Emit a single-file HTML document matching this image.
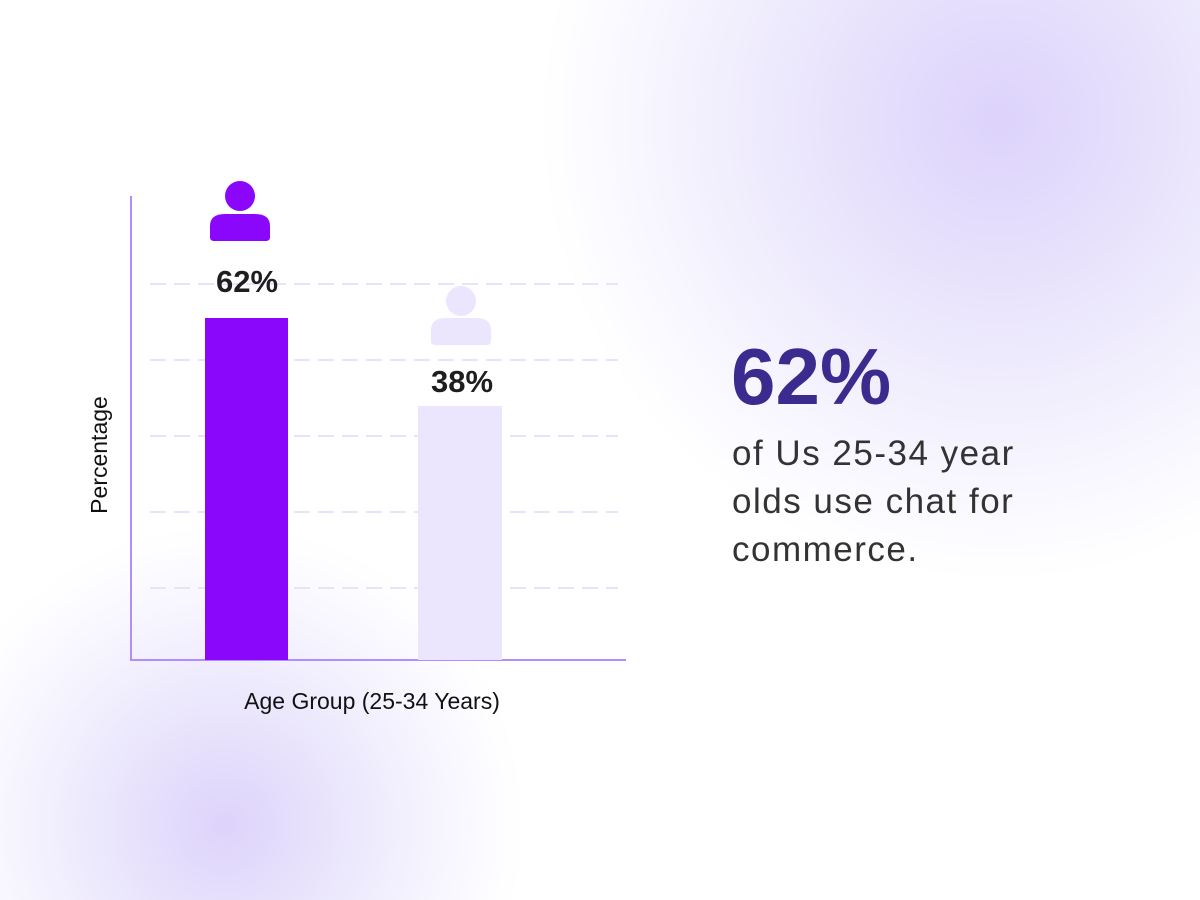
<!DOCTYPE html>
<html><head><style>
html,body{margin:0;width:1200px;height:900px;overflow:hidden;}
.c{position:relative;width:1200px;height:900px;overflow:hidden;background:#fff;font-family:"Liberation Sans",sans-serif;}
.g1{position:absolute;left:540px;top:-340px;width:920px;height:920px;border-radius:50%;background:radial-gradient(circle closest-side,#ddd3fb 0%,#e6e0fc 30%,#f1eefd 60%,#faf9ff 85%,rgba(255,255,255,0) 100%);}
.g2{position:absolute;left:-75px;top:525px;width:600px;height:600px;border-radius:50%;background:radial-gradient(circle closest-side,#ddd3fb 0%,#e9e4fc 35%,#f4f2fe 65%,#fcfbff 88%,rgba(255,255,255,0) 100%);}
.t{position:absolute;}
</style></head><body><div class="c">
<div class="g1"></div><div class="g2"></div>
<svg class="t" style="left:0;top:0" width="1200" height="900">
<g stroke="#e8e3fb" stroke-width="2" stroke-dasharray="16,8">
<line x1="150" y1="284" x2="618" y2="284"/><line x1="150" y1="360" x2="618" y2="360"/><line x1="150" y1="436" x2="618" y2="436"/><line x1="150" y1="512" x2="618" y2="512"/><line x1="150" y1="588" x2="618" y2="588"/>
</g>
<line x1="131" y1="196" x2="131" y2="661" stroke="#b38cff" stroke-width="2"/>
<line x1="130" y1="660" x2="626" y2="660" stroke="#b38cff" stroke-width="2"/>
<rect x="205" y="318" width="83" height="342" fill="#8a07fb"/>
<rect x="418" y="406" width="84" height="254" fill="#ebe6fd"/>
<circle cx="240" cy="196" r="15" fill="#8a07fb"/>
<path d="M210 237 V226 Q210 214 225 214 H255 Q270 214 270 226 V237 Q270 241 266 241 H214 Q210 241 210 237 Z" fill="#8a07fb"/>
<circle cx="461" cy="301" r="15" fill="#ebe6fd"/>
<path d="M431 341 V330 Q431 318 446 318 H476 Q491 318 491 330 V341 Q491 345 487 345 H435 Q431 345 431 341 Z" fill="#ebe6fd"/>
<text x="247" y="292" font-size="31" font-weight="bold" fill="#1e1e1e" text-anchor="middle">62%</text>
<text x="462" y="392" font-size="31" font-weight="bold" fill="#1e1e1e" text-anchor="middle">38%</text>
<text x="372" y="709" font-size="23" fill="#111" text-anchor="middle">Age Group (25-34 Years)</text>
<text transform="translate(107,455) rotate(-90)" font-size="23" fill="#111" text-anchor="middle">Percentage</text>
<text x="731" y="404" font-size="80" font-weight="bold" fill="#3b2b8e">62%</text>
<text x="732" y="465" font-size="35" fill="#333" letter-spacing="1.5">of Us 25-34 year</text>
<text x="732" y="513" font-size="35" fill="#333" letter-spacing="1.5">olds use chat for</text>
<text x="732" y="561" font-size="35" fill="#333" letter-spacing="1.5">commerce.</text>
</svg>
</div></body></html>
